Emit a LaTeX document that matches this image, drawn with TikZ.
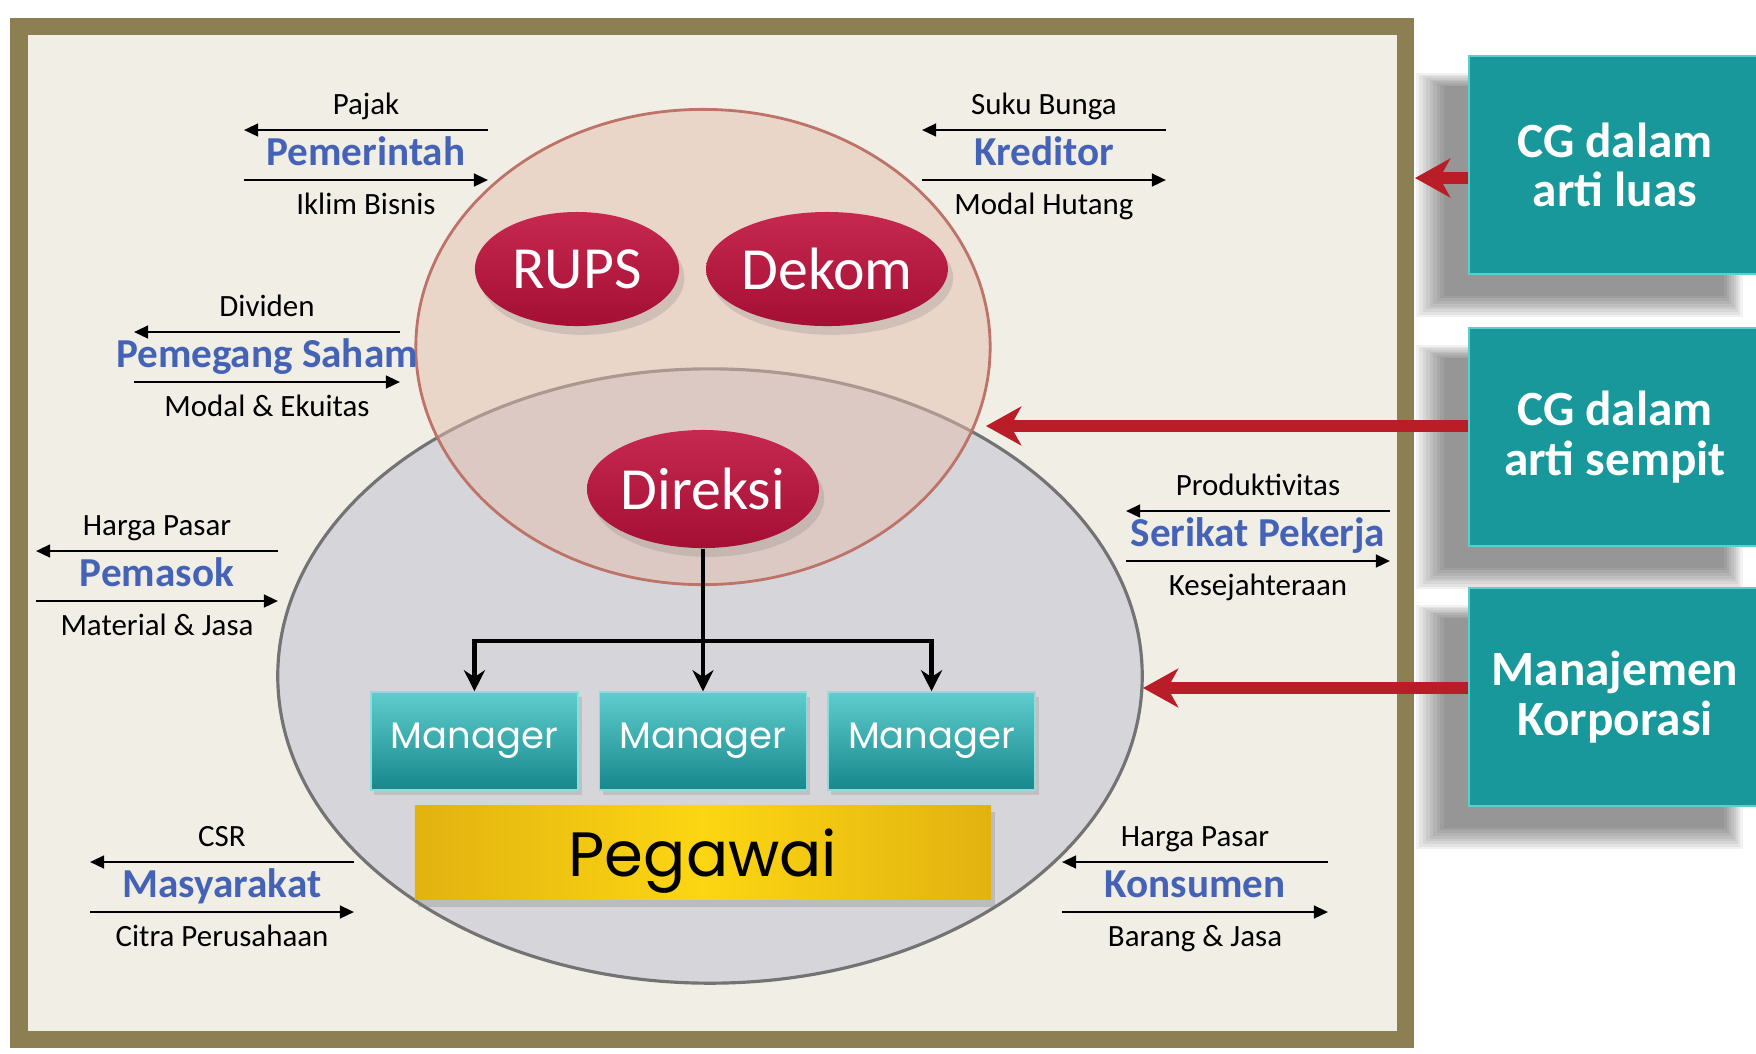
\documentclass[tikz,border=0pt]{standalone}
\usepackage{fontspec}
\setmainfont{Carlito}
\newfontfamily\geofont{Poppins}
\usetikzlibrary{shapes.geometric,arrows.meta,positioning,calc,shadows}

\definecolor{frameC}{RGB}{140,128,82}
\definecolor{creamC}{RGB}{241,238,229}
\definecolor{orgC}{RGB}{214,214,218}
\definecolor{gcgC}{RGB}{229,190,175}
\definecolor{crimL}{RGB}{198,40,80}
\definecolor{crimD}{RGB}{165,15,52}
\definecolor{mgrL}{RGB}{95,205,205}
\definecolor{mgrM}{RGB}{32,165,170}
\definecolor{mgrD}{RGB}{22,135,140}
\definecolor{goldL}{RGB}{252,214,18}
\definecolor{goldD}{RGB}{226,178,16}
\definecolor{tealC}{RGB}{24,152,154}
\definecolor{partyC}{RGB}{68,98,182}
\definecolor{cgred}{RGB}{185,30,40}

\begin{document}
\begin{tikzpicture}[x=0.01cm,y=-0.01cm,
  every node/.style={inner sep=0pt, align=center},
  lbl/.style={font=\fontsize{8.8}{10}\selectfont, text height=1.4ex, text depth=0.4ex},
  party/.style={font=\fontsize{11.7}{13}\selectfont\bfseries, text=partyC,
    text height=1.6ex, text depth=0.4ex},
  flow/.style={line width=0.7pt, -{Triangle[length=4pt,width=3.6pt]}},
  oval/.style={ellipse, top color=crimL, bottom color=crimD, text=white,
    font=\fontsize{17}{17}\selectfont,
    drop shadow={opacity=0.25, shadow xshift=1.5pt, shadow yshift=-2.5pt}},
  mgr/.style={rectangle, draw=mgrL!70!white, line width=0.4pt,
    top color=mgrL, middle color=mgrM, bottom color=mgrD, text=white,
    minimum width=2.07cm, minimum height=0.98cm,
    font=\geofont\fontsize{10.5}{10.5}\selectfont,
    drop shadow={opacity=0.25, shadow xshift=1pt, shadow yshift=-1.5pt}},
  conn/.style={line width=1.4pt, -{Stealth[length=6pt,width=6pt]}},
  softshadow/.style={general shadow={fill=black, opacity=0.055,
    shadow xshift=-0.32cm, shadow yshift=-0.27cm, shadow scale=#1}},
  cgbox/.style={rectangle, fill=tealC, draw=mgrL, line width=0.5pt, text=white,
    minimum width=2.92cm, minimum height=2.18cm,
    font=\fontsize{14}{14}\selectfont\bfseries,
    softshadow=1.12, softshadow=1.1, softshadow=1.08, softshadow=1.06,
    softshadow=1.04, softshadow=1.02, softshadow=1.0, softshadow=0.98,
    softshadow=0.96},
  cgarrow/.style={line width=3.5pt, draw=cgred,
    -{Stealth[length=10pt,width=11pt,inset=3pt]}}]

\useasboundingbox (0,0) rectangle (1756,1053);
\fill[white] (0,0) rectangle (1756,1053);

% frame
\draw[line width=0.17cm, draw=frameC, fill=creamC] (19,26) rectangle (1405,1039);

% organisation and governance ellipses
\node[ellipse, draw=black!55, line width=0.9pt, fill=orgC,
  minimum width=8.64cm, minimum height=6.14cm] (org) at (710,676) {};
\node[ellipse, draw={rgb,255:red,190;green,115;blue,105}, line width=0.8pt,
  fill=gcgC, fill opacity=0.5, minimum width=5.74cm, minimum height=4.75cm] (gcg) at (703,347) {};

% organs
\node[oval, minimum width=2.04cm, minimum height=1.14cm] (rups) at (577,269) {RUPS};
\node[oval, minimum width=2.04cm, minimum height=1.14cm] (dekom) at (827,269) {Dekom};
\node[oval, minimum width=2.08cm, minimum height=1.18cm] (direksi) at (703,489) {Direksi};

% managers and staff
\node[mgr] (mgr2) at (703,741) {Manager};
\node[mgr, left=0.2cm of mgr2] (mgr1) {Manager};
\node[mgr, right=0.2cm of mgr2] (mgr3) {Manager};
\node[below=0.14cm of mgr2, minimum width=5.76cm, minimum height=0.94cm,
  left color=goldD, right color=goldD, middle color=goldL, text depth=0pt,
  font=\geofont\fontsize{17.8}{17.8}\selectfont,
  drop shadow={opacity=0.3, shadow xshift=1pt, shadow yshift=-2pt}] (pegawai) {Pegawai};

\coordinate (bar) at (703,641);
\draw[conn] (direksi.south) -- (mgr2.north);
\draw[conn] (mgr2.north |- bar) -| (mgr1.north);
\draw[conn] (mgr2.north |- bar) -| (mgr3.north);

% stakeholders
\foreach \up/\nm/\dn/\cx/\ny/\hl [count=\i] in {
  Pajak/Pemerintah/Iklim Bisnis/366/155/122,
  Suku Bunga/Kreditor/Modal Hutang/1044/155/122,
  Dividen/Pemegang Saham/Modal \& Ekuitas/267/357/133,
  Harga Pasar/Pemasok/Material \& Jasa/157/576/121,
  Produktivitas/Serikat Pekerja/Kesejahteraan/1258/536/132,
  CSR/Masyarakat/Citra Perusahaan/222/887/132,
  Harga Pasar/Konsumen/Barang \& Jasa/1195/887/133}
{
  \node[party] (g\i) at (\cx,\ny) {\nm};
  \node[lbl] (g\i-up) at (\cx,\ny-49) {\up};
  \node[lbl] (g\i-dn) at (\cx,\ny+51) {\dn};
  \coordinate (g\i-a) at (\cx+\hl,\ny-25);
  \coordinate (g\i-b) at (\cx-\hl,\ny-25);
  \coordinate (g\i-c) at (\cx-\hl,\ny+25);
  \coordinate (g\i-d) at (\cx+\hl,\ny+25);
  \draw[flow] (g\i-a) -- (g\i-b);
  \draw[flow] (g\i-c) -- (g\i-d);
}

% CG boxes
\node[cgbox] (luas) at (1615,165) {CG dalam\\arti luas};
\node[cgbox] (sempit) at (1615,437) {CG dalam\\arti sempit};
\node[cgbox] (mnj) at (1615,697) {Manajemen\\Korporasi};

\coordinate (tipA) at (1415,178);
\coordinate (tipB) at (986,426);
\coordinate (tipC) at (1143,688);
\draw[cgarrow] (luas.west |- tipA) -- (tipA);
\draw[cgarrow] (sempit.west |- tipB) -- (tipB);
\draw[cgarrow] (mnj.west |- tipC) -- (tipC);
\end{tikzpicture}
\end{document}
